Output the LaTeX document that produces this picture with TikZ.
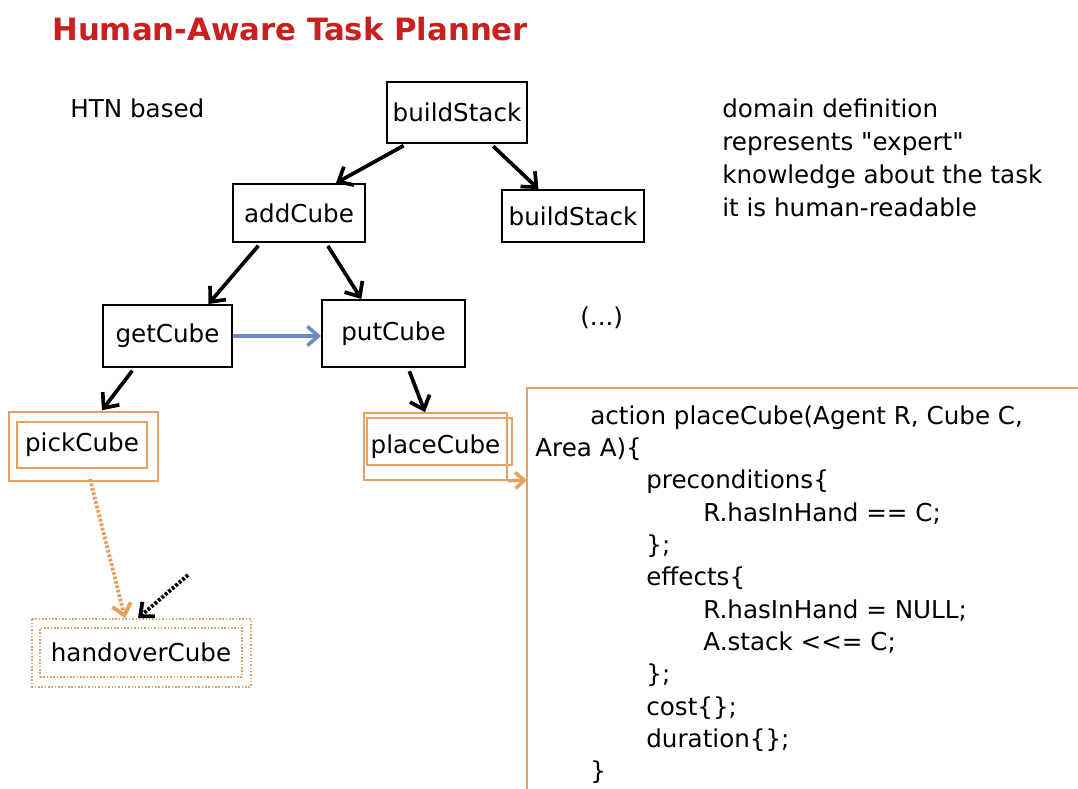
\documentclass[tikz,border=0pt]{standalone}
\usepackage{fontspec}
\setmainfont{DejaVu Sans}[Ligatures=TeXOff]
\usetikzlibrary{arrows.meta}

\definecolor{titlered}{RGB}{200,32,30}
\definecolor{boxorange}{RGB}{226,162,102}
\definecolor{linkblue}{RGB}{108,138,200}

\begin{document}
\begin{tikzpicture}[x=0.2mm, y=-0.2mm,
  every node/.style={font=\fontsize{14}{18.8}\selectfont},
  taskbox/.style={draw, line width=1.1pt, inner sep=0pt},
  primbox/.style={draw=boxorange, line width=0.9pt, inner sep=0pt},
  dec/.style={line width=2.1pt, -{Straight Barb[length=2.4mm,width=4.2mm]}, shorten <=2pt}]

\useasboundingbox (0,0) rectangle (1078,789);

%\draw[help lines,step=50] (0,0) grid (1078,789);

\node[font=\fontsize{17.5}{20}\selectfont\bfseries, text=titlered, anchor=base west, inner sep=0] (title) at (52,40) {Human-Aware Task Planner};

% HTN tree
\node[taskbox, minimum width=28mm, minimum height=12.2mm] (buildStack) at (457,112.5) {buildStack};
\node[taskbox, minimum width=26.4mm, minimum height=11.6mm] (addCube) at (299,213) {addCube};
\node[taskbox, minimum width=28.4mm, minimum height=10.4mm] (buildStackB) at (573,216) {buildStack};
\node[taskbox, minimum width=25.8mm, minimum height=12.4mm] (getCube) at (167.5,336) {getCube};
\node[taskbox, minimum width=28.6mm, minimum height=13.4mm] (putCube) at (393.5,333.5) {putCube};

% primitive actions
\node[primbox, minimum width=26mm, minimum height=9.2mm] (pickCube) at (82,445) {pickCube};
\draw[boxorange, line width=0.9pt] ([xshift=-1.4mm,yshift=1.8mm]pickCube.north west) rectangle ([xshift=2mm,yshift=-2.4mm]pickCube.south east);
\node[primbox, densely dotted, minimum width=40.4mm, minimum height=9.8mm] (handoverCube) at (141,652.5) {handoverCube};
\draw[boxorange, line width=0.9pt, densely dotted] ([xshift=-1.4mm,yshift=1.6mm]handoverCube.north west) rectangle ([xshift=1.6mm,yshift=-1.8mm]handoverCube.south east);
\node[primbox, minimum width=28.6mm, minimum height=13.4mm] (placeCube) at (435.5,446.5) {placeCube};
\draw[boxorange, line width=0.9pt] (367,418) rectangle (512,465);

\draw[dec] (buildStack.212) -- (addCube.39);
\draw[dec] (buildStack.-43) -- (buildStackB.142);
\draw[dec] (addCube.218) -- (getCube.38);
\draw[dec] (addCube.-48) -- (putCube.133);
\draw[dec] (getCube.224) -- ([xshift=4mm,yshift=2.2mm]pickCube.north);
\draw[dec] (putCube.-67) -- (placeCube.107);

\draw[linkblue, line width=2pt, -{Straight Barb[length=2.2mm,width=3.8mm]}] (getCube.east) -- (getCube.east -| putCube.west);

\draw[boxorange, line width=2.2pt, dash pattern=on 1.6pt off 1pt, -{Straight Barb[length=2.2mm,width=3.8mm]}, shorten <=6pt] (pickCube.-77) -- ([xshift=-3.2mm,yshift=1.8mm]handoverCube.north);
\coordinate (otherAgent) at (188,575);
\draw[line width=2.2pt, dash pattern=on 1.6pt off 1pt, -{Straight Barb[length=2.2mm,width=3.8mm]}] (otherAgent) -- ([xshift=-0.6mm,yshift=1.8mm]handoverCube.north);

% action definition
\draw[boxorange, line width=1pt] (527,789) |- (1078,388);
\coordinate (defIn) at (527,480);
\draw[boxorange, line width=2pt, -{Straight Barb[length=1.8mm,width=3.2mm]}] (placeCube.south east) -- (defIn);

\node[anchor=north west, inner sep=0, align=left, font=\fontsize{14}{18.4}\selectfont] (placeDef) at (535,405) {\hspace*{11mm}action placeCube(Agent R, Cube C,\\
Area A)\{\\
\hspace*{22.2mm}preconditions\{\\
\hspace*{33.6mm}R.hasInHand == C;\\
\hspace*{22.2mm}\};\\
\hspace*{22.2mm}effects\{\\
\hspace*{33.6mm}R.hasInHand = NULL;\\
\hspace*{33.6mm}A.stack <<= C;\\
\hspace*{22.2mm}\};\\
\hspace*{22.2mm}cost\{\};\\
\hspace*{22.2mm}duration\{\};\\
\hspace*{11mm}\}};

% notes
\node[anchor=base west, inner sep=0] (htn) at (70,117) {HTN based};
\node[anchor=north west, inner sep=0, align=left] (domainNote) at (722,98) {domain definition\\represents "expert"\\knowledge about the task\\it is human-readable};
\node[anchor=base west, inner sep=0] (etc) at (580,325) {(...)};

\end{tikzpicture}
\end{document}
